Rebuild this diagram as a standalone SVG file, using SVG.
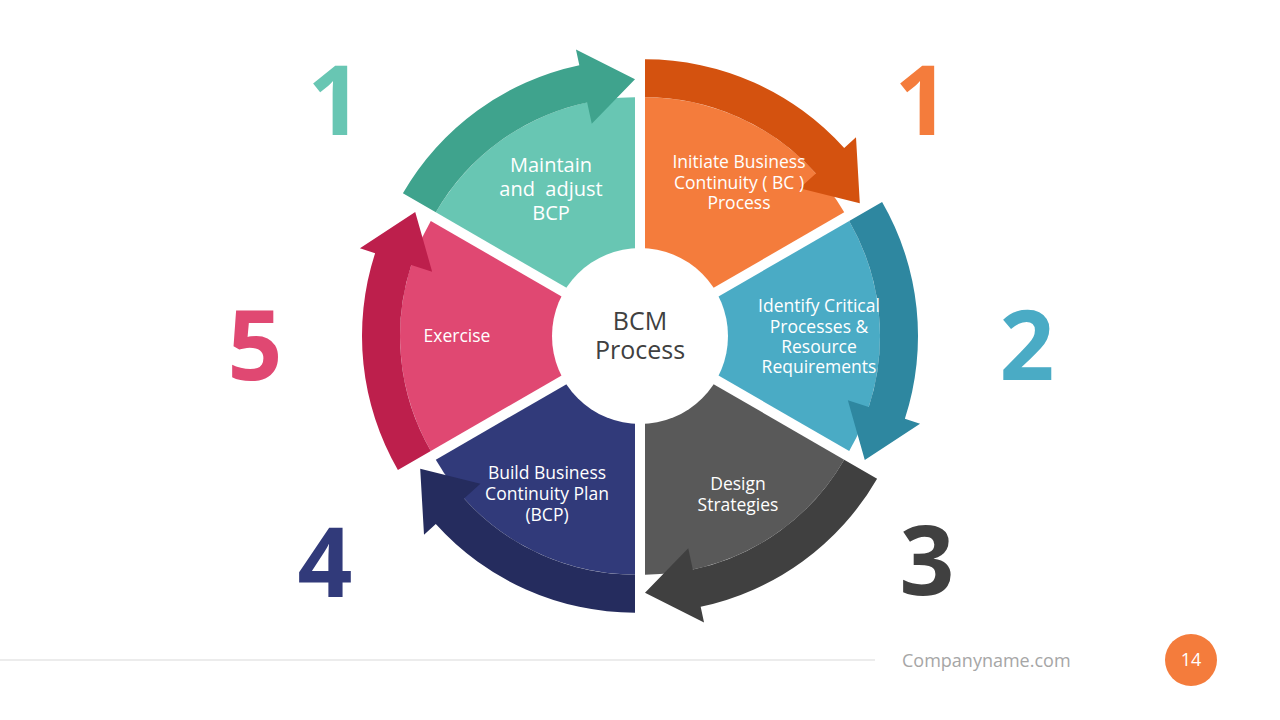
<svg xmlns="http://www.w3.org/2000/svg" width="1280" height="720" viewBox="0 0 1280 720">
<style>
.t{font-family:"Open Sans","Liberation Sans",sans-serif;fill:#fff;text-anchor:middle;font-size:17.5px}
.n{font-family:"Open Sans","Liberation Sans",sans-serif;font-weight:bold;font-size:96px;text-anchor:middle}
</style>
<defs>
<path id="w" d="M0,0 L0,-230 A230,230 0 0 1 199.2,-115 Z"/>
<path id="a" d="M0,-268 A268,268 0 0 1 199.2,-179.3 L211,-190 L214.8,-124 L154.6,-139.2 L170.9,-153.9 A230,230 0 0 0 0,-230 Z"/>
</defs>
<rect width="1280" height="720" fill="#fff"/>
<g id="seg-orange" transform="translate(640,336) rotate(0) translate(5,-8.66)"><use href="#w" fill="#F47C3C"/><use href="#a" fill="#D4520F"/></g>
<g id="seg-blue" transform="translate(640,336) rotate(60) translate(5,-8.66)"><use href="#w" fill="#4AABC5"/><use href="#a" fill="#2E87A0"/></g>
<g id="seg-gray" transform="translate(640,336) rotate(120) translate(5,-8.66)"><use href="#w" fill="#595959"/><use href="#a" fill="#404040"/></g>
<g id="seg-navy" transform="translate(640,336) rotate(180) translate(5,-8.66)"><use href="#w" fill="#313A7A"/><use href="#a" fill="#252C5E"/></g>
<g id="seg-pink" transform="translate(640,336) rotate(240) translate(5,-8.66)"><use href="#w" fill="#E04872"/><use href="#a" fill="#BD1F4C"/></g>
<g id="seg-teal" transform="translate(640,336) rotate(300) translate(5,-8.66)"><use href="#w" fill="#68C6B3"/><use href="#a" fill="#3FA38D"/></g>
<g id="center"><circle cx="640" cy="336" r="88" fill="#fff"/>
<text x="640" y="330" style="font-family:'Open Sans','Liberation Sans',sans-serif;font-size:25px;fill:#404040;text-anchor:middle">BCM</text>
<text x="640" y="359" style="font-family:'Open Sans','Liberation Sans',sans-serif;font-size:25px;fill:#404040;text-anchor:middle">Process</text></g>
<g id="labels">
<text class="t" style="font-size:20px" x="551" y="172">Maintain</text>
<text class="t" style="font-size:20px" x="551" y="196" xml:space="preserve">and  adjust</text>
<text class="t" style="font-size:20px" x="551" y="220">BCP</text>
<text class="t" x="739" y="168">Initiate Business</text>
<text class="t" x="739" y="189">Continuity ( BC )</text>
<text class="t" x="739" y="209">Process</text>
<text class="t" x="819" y="312">Identify Critical</text>
<text class="t" x="819" y="333">Processes &amp;</text>
<text class="t" x="819" y="353">Resource</text>
<text class="t" x="819" y="373">Requirements</text>
<text class="t" x="738" y="490">Design</text>
<text class="t" x="738" y="511">Strategies</text>
<text class="t" x="547" y="479">Build Business</text>
<text class="t" x="547" y="500">Continuity Plan</text>
<text class="t" x="547" y="521">(BCP)</text>
<text class="t" x="457" y="342">Exercise</text>
</g>
<g id="numbers">
<text class="n" x="335" y="135" fill="#68C6B3">1</text>
<text class="n" x="922" y="135" fill="#F47C3C">1</text>
<text class="n" x="1027" y="380" fill="#4AABC5">2</text>
<text class="n" x="927" y="595" fill="#404040">3</text>
<text class="n" x="325" y="597" fill="#313A7A">4</text>
<text class="n" x="255" y="380" fill="#E04872">5</text>
</g>
<g id="footer">
<line x1="0" y1="660" x2="875" y2="660" stroke="#d9d9d9" stroke-width="1"/>
<text x="902" y="667" style="font-family:'Open Sans','Liberation Sans',sans-serif;font-size:18px;fill:#a6a6a6">Companyname.com</text>
<circle cx="1191" cy="660" r="26" fill="#F47C3C"/>
<text class="t" style="font-size:18px" x="1191" y="666">14</text>
</g>
</svg>
